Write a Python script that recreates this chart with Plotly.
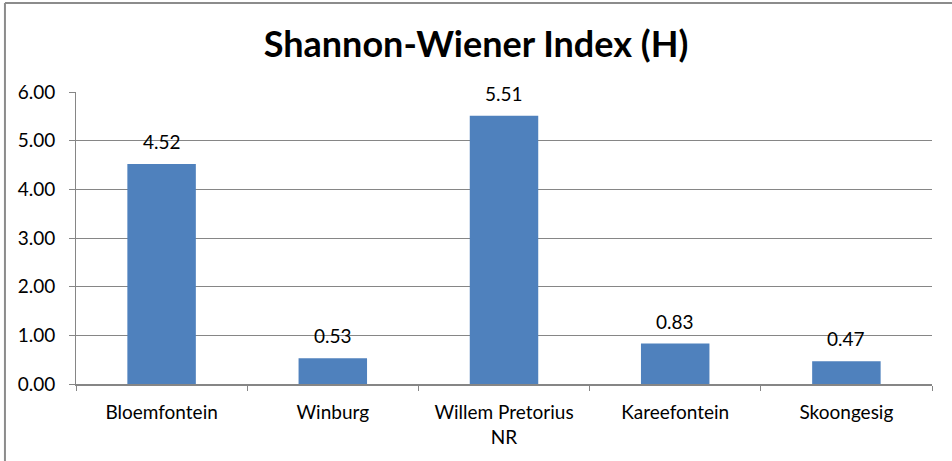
import plotly.graph_objects as go

# Shannon-Wiener diversity per site
sites = ['Bloemfontein', 'Winburg', 'Willem Pretorius<br>NR', 'Kareefontein', 'Skoongesig']
h_index = [4.52, 0.53, 5.51, 0.83, 0.47]
y_ticks = [0, 1, 2, 3, 4, 5, 6]

grey = '#868686'
font = 'Lato, Calibri, sans-serif'

fig = go.Figure()
fig.add_trace(go.Bar(x=sites, y=h_index, marker_color='#4F81BD', marker_line_width=0, width=0.4))

# value labels above the bars
for s, v in zip(sites, h_index):
    fig.add_annotation(x=s, y=v, text=f'{v:.2f}', showarrow=False, yanchor='bottom',
                       yshift=9, font=dict(size=19, color='black', family=font))

fig.update_layout(
    width=952, height=461,
    margin=dict(l=76, r=20, t=92, b=77),
    plot_bgcolor='white', paper_bgcolor='white',
    font=dict(family=font, size=19, color='black'),
    title=dict(text='<b>Shannon-Wiener Index (H)</b>', x=0.5, xanchor='center',
               y=0.903, yanchor='middle', font=dict(size=36, family=font)),
    showlegend=False,
)
fig.update_yaxes(range=[0, 6], tickvals=y_ticks, tickformat='.2f', showgrid=True,
                 gridcolor=grey, gridwidth=1, showline=True, linecolor=grey,
                 ticks='outside', ticklen=6, tickcolor=grey, zeroline=False,
                 ticklabelstandoff=10, automargin=False)
fig.update_xaxes(showline=True, linecolor=grey, linewidth=2, ticks='outside', ticklen=5,
                 tickcolor=grey, tickson='boundaries', showgrid=False,
                 ticklabelstandoff=10, automargin=False)

# chart frame (only top and left edges show in the crop)
fig.add_shape(type='line', xref='paper', yref='paper', x0=-0.083, x1=1.1, y0=1.305, y1=1.305,
              line=dict(color='#8c8c8c', width=2))
fig.add_shape(type='line', xref='paper', yref='paper', x0=-0.083, x1=-0.083, y0=1.305, y1=-0.4,
              line=dict(color='#8c8c8c', width=2))

fig.write_html('out.html', config={'displayModeBar': False},
               post_script="document.body.style.margin='0';")
